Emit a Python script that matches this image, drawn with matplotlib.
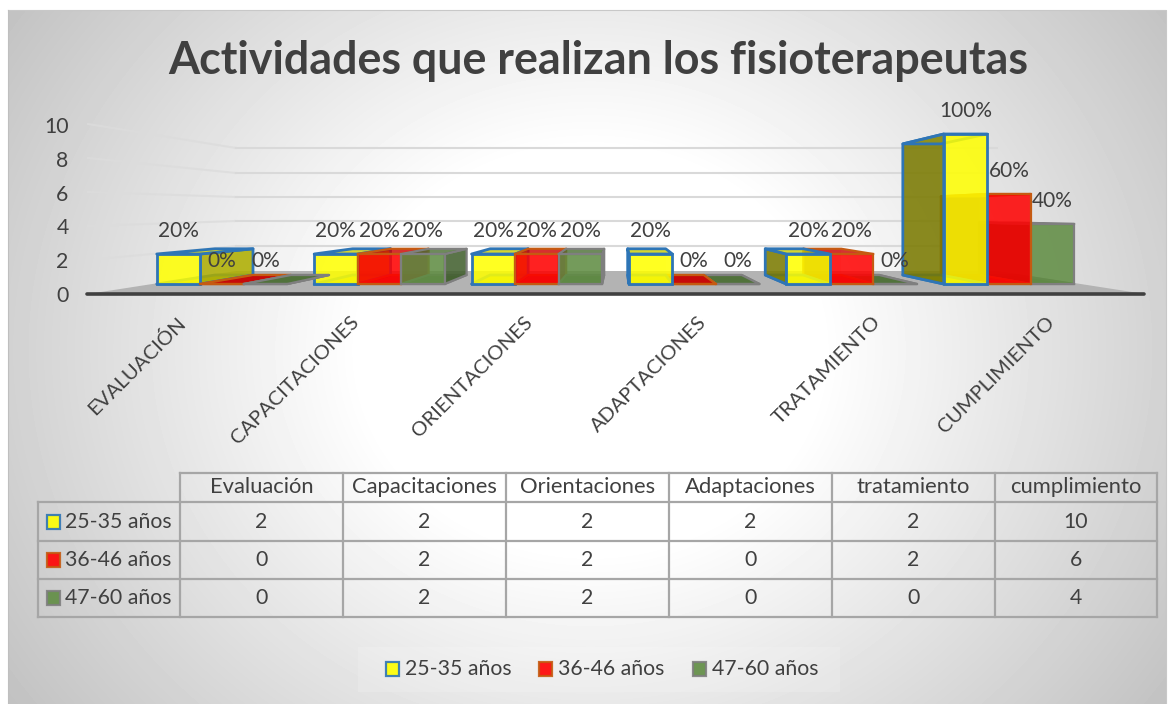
import numpy as np
import matplotlib
matplotlib.use("Agg")
import matplotlib.pyplot as plt
from matplotlib.patches import Polygon, Rectangle

W, H = 1174, 704
plt.rcParams['font.family'] = ['Lato', 'DejaVu Sans']

title = "Actividades que realizan los fisioterapeutas"
axis_labels = ["EVALUACIÓN", "CAPACITACIONES", "ORIENTACIONES", "ADAPTACIONES", "TRATAMIENTO", "CUMPLIMIENTO"]
table_headers = ["Evaluación", "Capacitaciones", "Orientaciones", "Adaptaciones", "tratamiento", "cumplimiento"]
series_names = ["25-35 años", "36-46 años", "47-60 años"]
values_25_35 = [2, 2, 2, 2, 2, 10]
values_36_46 = [0, 2, 2, 0, 2, 6]
values_47_60 = [0, 2, 2, 0, 0, 4]
pct_25_35 = ["20%", "20%", "20%", "20%", "20%", "100%"]
pct_36_46 = ["0%", "20%", "20%", "0%", "20%", "60%"]
pct_47_60 = ["0%", "20%", "20%", "0%", "0%", "40%"]
yticks = [0, 2, 4, 6, 8, 10]

all_values = [values_25_35, values_36_46, values_47_60]
all_pct = [pct_25_35, pct_36_46, pct_47_60]
face_cols = ["#ffff00", "#ff0000", "#5f8c42"]
edge_cols = ["#2e75b6", "#c55a11", "#7f7f7f"]
TXT = "#404040"
FS = 15.3

fig = plt.figure(figsize=(W / 100, H / 100), dpi=100, facecolor="white")

def px_axes(x0, ytop, x1, ybot, **kw):
    return fig.add_axes([x0 / W, 1 - ybot / H, (x1 - x0) / W, (ybot - ytop) / H], **kw)

# ---------- background in pixel coordinates
bg = px_axes(0, 0, W, H, zorder=0)
bg.set_xlim(0, W); bg.set_ylim(H, 0); bg.axis("off")
yy, xx = np.mgrid[10:704, 8:1166]
r = np.sqrt(((xx - 590) / 640.0) ** 2 + ((yy - 350) / 560.0) ** 2)
g = np.clip((r - 0.36) / (1.10 - 0.36), 0, 1)
img = 1.0 - g * (1.0 - 0.76)
bg.imshow(img, extent=(8, 1166, 704, 10), cmap="gray", vmin=0, vmax=1, aspect="auto", zorder=0)
bg.plot([8, 1166, 1166], [10, 10, 704], color="#c8c8c8", lw=0.8, zorder=1)
bg.plot([8, 8], [10, 704], color="#bfbfbf", lw=0.8, zorder=1)
bg.set_xlim(0, W); bg.set_ylim(H, 0)

bg.text(598, 61, title, fontsize=32.3, fontweight="bold", color=TXT, ha="center", va="center")

# walls / floor drawn in pixel coordinates
grid_left = [124, 158, 192, 226, 260]
grid_mid = [148, 173, 197, 221, 246]
for a, b in zip(grid_left, grid_mid):
    bg.plot([88, 236], [a, b], color="#dcdcdc", lw=1.5, zorder=2, alpha=0.8)
    bg.plot([236, 997], [b, b], color="#d9d9d9", lw=1.5, zorder=2)
bg.add_patch(Polygon([(88, 294), (236, 271), (997, 271), (1145, 294)], closed=True,
                     facecolor="#b3b3b3", edgecolor="none", zorder=3))
bg.plot([87, 1144], [294, 294], color="#404040", lw=2.6, zorder=4, solid_capstyle="round")

# ---------- y axis + rotated category labels on the front plane
front = px_axes(88, 125, 1145, 294, zorder=1)
front.patch.set_alpha(0)
front.set_ylim(0, 10)
front.set_xlim((88 - 176) / 174.0, (1145 - 176) / 174.0)
front.set_yticks(yticks)
front.set_yticklabels([str(v) for v in yticks], fontsize=FS, color=TXT)
front.set_xticks(range(6))
front.set_xticklabels(axis_labels, rotation=45, ha="right", va="top", rotation_mode="anchor",
                      fontsize=14.7, color=TXT)
front.tick_params(axis="both", length=0, pad=0)
front.tick_params(axis="y", pad=14)
front.tick_params(axis="x", pad=14)
for s in front.spines.values():
    s.set_visible(False)

# ---------- bars (data coordinates: category index / value)
ax = px_axes(143.3, 134, 1087.7, 284, zorder=2)
ax.patch.set_alpha(0)
ax.set_xlim(-0.5, 5.5); ax.set_ylim(0, 10); ax.axis("off")
BW = 43.5 / 157.4
VX, VY, S = 2.522, 4.76, 0.874

def back(x, y):
    return VX + S * (x - VX), VY + S * (y - VY)

def mix(c, f):
    rgb = np.array(matplotlib.colors.to_rgb(c))
    return tuple(rgb * f)

def draw_bar(xl, h, col, edge, lw, z):
    xr = xl + BW
    fr = [(xl, 0), (xr, 0), (xr, h), (xl, h)]
    bk = [back(*p) for p in fr]
    kw = dict(closed=True, edgecolor=edge, linewidth=lw, joinstyle="round", clip_on=False)
    a = 0.86
    def face(pts, f, zz, fa=a):
        c = mix(col, f)
        ax.add_patch(Polygon(pts, facecolor=(*c, fa), zorder=z + zz, **kw))
    # hidden back and floor faces stay faint so the front colour remains bright
    ax.add_patch(Polygon(bk, facecolor=(*mix(col, 1.0), 0.08), zorder=z, closed=True, edgecolor="none", clip_on=False))
    face([fr[0], fr[1], bk[1], bk[0]], 0.72, 0.1, 0.7)
    if xl > VX:
        face([fr[0], fr[3], bk[3], bk[0]], 0.47, 0.2)
    if xr < VX:
        face([fr[1], fr[2], bk[2], bk[1]], 0.68, 0.2)
    face([fr[3], fr[2], bk[2], bk[3]], 0.8, 0.3, 0.8 if h < 5 else 0.15)
    if h > 0:
        ax.bar(xl, h, width=BW, align="edge", facecolor=(*matplotlib.colors.to_rgb(col), a),
               edgecolor=edge, linewidth=lw, zorder=z + 0.4, clip_on=False)
    else:
        ax.plot([xl, xr], [0, 0], color=edge, lw=lw, zorder=z + 0.4, clip_on=False)

widths = [2.0, 1.6, 1.6]
order = sorted(range(6), key=lambda i: abs(i - VX))
z = 1
for i in order:
    js = [2, 1, 0] if i > VX else [0, 1, 2]
    for j in js:
        xl = i - 1.5 * BW + j * BW
        draw_bar(xl, all_values[j][i], face_cols[j], edge_cols[j], widths[j], z)
        z += 1

for j in range(3):
    for i in range(6):
        xc = i - 1.5 * BW + (j + 0.5) * BW
        ax.annotate(all_pct[j][i], (xc, all_values[j][i]), xytext=(0, 16.3), textcoords="offset points",
                    ha="center", va="center", fontsize=15, color=TXT, zorder=500, annotation_clip=False)

# ---------- data table + legend in pixel coordinates
ov = px_axes(0, 0, W, H, zorder=3)
ov.patch.set_alpha(0)
ov.set_xlim(0, W); ov.set_ylim(H, 0); ov.axis("off")
col_x = [38, 180, 343, 506, 669, 832, 995, 1157]
row_y = [473, 502, 541, 579, 617]
LC = "#a6a6a6"
LW = 1.6
ov.plot([180, 1157], [473, 473], color=LC, lw=LW)
for y in row_y[1:]:
    ov.plot([38, 1157], [y, y], color=LC, lw=LW)
ov.plot([38, 38], [502, 617], color=LC, lw=LW)
for x in col_x[1:]:
    ov.plot([x, x], [473, 617], color=LC, lw=LW)
for c, name in enumerate(table_headers):
    ov.text((col_x[c + 1] + col_x[c + 2]) / 2, 487, name, ha="center", va="center", fontsize=15.8, color=TXT)
for r_i, name in enumerate(series_names):
    yc = (row_y[r_i + 1] + row_y[r_i + 2]) / 2
    ov.add_patch(Rectangle((47, yc - 7), 13, 14, facecolor=face_cols[r_i], alpha=0.9, edgecolor=edge_cols[r_i], lw=1.6))
    ov.text(65, yc, name, ha="left", va="center", fontsize=FS, color=TXT)
    for c in range(6):
        ov.text((col_x[c + 1] + col_x[c + 2]) / 2, yc, str(all_values[r_i][c]), ha="center", va="center",
                fontsize=FS, color=TXT)

ov.add_patch(Rectangle((358, 647), 482, 45, facecolor="white", alpha=0.15, edgecolor="none"))
leg_x = [385, 538, 692]
for x, name, fc, ec in zip(leg_x, series_names, face_cols, edge_cols):
    ov.add_patch(Rectangle((x + 1, 662), 13, 14, facecolor=fc, alpha=0.9, edgecolor=ec, lw=1.6))
    ov.text(x + 20, 669, name, ha="left", va="center", fontsize=FS, color=TXT)

fig.savefig("out.png", dpi=100)
